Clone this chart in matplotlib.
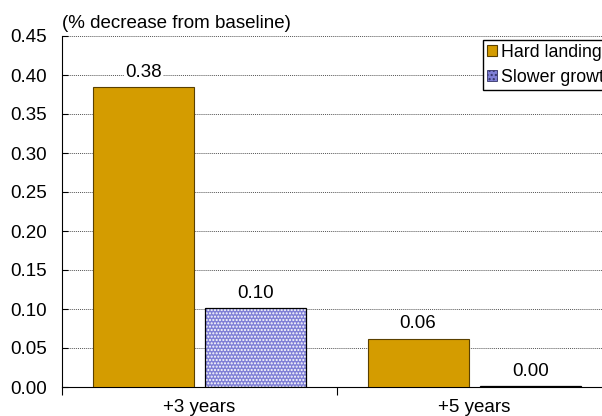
import numpy as np
import matplotlib.pyplot as plt

plt.rcParams['font.family'] = ['Liberation Sans', 'DejaVu Sans']

# data
categories = ['+3 years', '+5 years']
hard_landing = [0.384, 0.062]
slower_growth = [0.101, 0.001]
hard_labels = ['0.38', '0.06']
slower_labels = ['0.10', '0.00']

fs = 13.5

fig = plt.figure(figsize=(6.02, 4.16), dpi=100)
ax = fig.add_axes([62 / 602, 29 / 416, 550 / 602, 351 / 416])

x = np.arange(len(categories))
w = 0.367
off = 0.205

ax.bar(x - off, hard_landing, w, color='#D49C00', edgecolor='#5a4000', linewidth=0.8,
       label='Hard landing', zorder=3)
# checkered fill for slower growth
ax.bar(x + off, slower_growth, w, color='#7f7fd6', edgecolor='white', hatch='.....',
       linewidth=0, zorder=3)
ax.bar(x + off, slower_growth, w, fill=False, edgecolor='black', linewidth=0.9, zorder=4)
ax.bar([np.nan], [np.nan], color='#7f7fd6', edgecolor='#333366', hatch='....',
       linewidth=0.6, label='Slower growth')

for xi, v, t in zip(x - off, hard_landing, hard_labels):
    ax.text(xi, v + 0.019, t, ha='center', va='center', fontsize=fs,
            bbox=dict(facecolor='white', edgecolor='none', pad=1), zorder=5)
for xi, v, t in zip(x + off, slower_growth, slower_labels):
    ax.text(xi, v + 0.019, t, ha='center', va='center', fontsize=fs,
            bbox=dict(facecolor='white', edgecolor='none', pad=1), zorder=5)

ax.set_xlim(-0.5, 1.5)
ax.set_ylim(0, 0.45)
ticks = np.arange(0, 0.451, 0.05)
ax.set_yticks(ticks)
ax.set_yticklabels(['%.2f' % v for v in ticks], fontsize=fs)
ax.yaxis.grid(True, linestyle=(0, (1, 1)), color='#555555', linewidth=0.7, zorder=0)
ax.tick_params(axis='y', direction='in', length=4, pad=11)

ax.set_xticks([-0.5, 0.5, 1.5])
ax.set_xticklabels([])
ax.set_xticks(x, minor=True)
ax.set_xticklabels(categories, minor=True, fontsize=fs)
ax.tick_params(axis='x', which='major', direction='out', length=6)
ax.tick_params(axis='x', which='minor', length=0, pad=9)

ax.spines['top'].set_visible(False)
ax.spines['right'].set_visible(False)

ax.text(0.0, 1.01, '(% decrease from baseline)', transform=ax.transAxes,
        fontsize=fs, ha='left', va='bottom')

ax.legend(loc='upper left', bbox_to_anchor=(0.765, 0.99), fontsize=12.8,
          frameon=True, fancybox=False, edgecolor='black', framealpha=1,
          handlelength=0.55, handleheight=0.55, handletextpad=0.2,
          borderpad=0.25, labelspacing=0.45, borderaxespad=0)

fig.savefig('out.png', dpi=100)
